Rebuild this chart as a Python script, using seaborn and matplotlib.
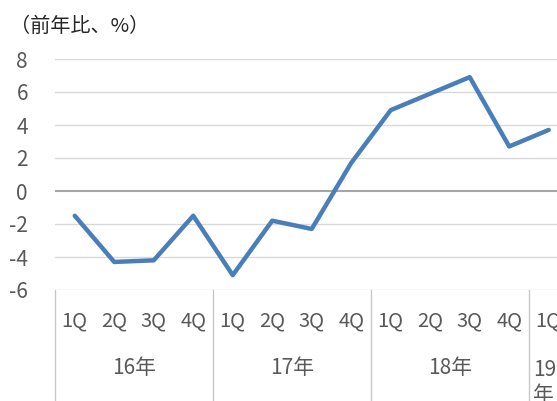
import matplotlib
matplotlib.use('Agg')
from matplotlib import pyplot as plt
import matplotlib.transforms as mtransforms
import seaborn as sns
import pandas as pd

# data
quarters = ['1Q', '2Q', '3Q', '4Q', '1Q', '2Q', '3Q', '4Q', '1Q', '2Q', '3Q', '4Q', '1Q']
years = ['16年', '17年', '18年']
year_pos = [1.5, 5.5, 9.5]
last_year = '19\n年'
values = [-1.5, -4.3, -4.2, -1.5, -5.1, -1.8, -2.3, 1.7, 4.9, 5.9, 6.9, 2.7, 3.7]
yticks = [-6, -4, -2, 0, 2, 4, 6, 8]


def main():
    sns.set_style('white')
    plt.rcParams['font.family'] = ['Noto Sans CJK JP', 'DejaVu Sans']

    df = pd.DataFrame({'idx': range(len(values)), 'value': values})

    fig = plt.figure(figsize=(5.57, 4.01), dpi=100)
    ax = fig.add_axes([55 / 557, 1 - 290 / 401, 1 - 55 / 557, (290 - 59) / 401])

    for y in yticks:
        if y == 0:
            continue
        ax.axhline(y, color='#d9d9d9', lw=1.0, zorder=1)
    ax.axhline(0, color='#a6a6a6', lw=1.5, zorder=1)

    sns.lineplot(data=df, x='idx', y='value', color='#4a7ebb', lw=3.2, ax=ax, zorder=3)

    ax.set_xlim(-0.5, 12.21)
    ax.set_ylim(-6, 8)
    ax.set_yticks(yticks)
    ax.set_yticklabels([str(y) for y in yticks], fontsize=15, color='#595959')
    ax.set_xticks(range(len(quarters)))
    ax.set_xticklabels(quarters, fontsize=14.5, color='#595959')
    ax.tick_params(axis='x', length=0, pad=15)
    ax.tick_params(axis='y', length=0, pad=19.5)
    ax.set_xlabel('')
    ax.set_ylabel('')
    for s in ax.spines.values():
        s.set_visible(False)

    # category group separators below the axis
    trans = mtransforms.blended_transform_factory(ax.transData, ax.transAxes)
    for xs in [-0.5, 3.5, 7.5, 11.5]:
        ax.plot([xs, xs], [0, -0.5], color='#c8c8c8', lw=1.0, transform=trans, clip_on=False)

    for lab, xp in zip(years, year_pos):
        ax.text(xp, -0.338, lab, transform=trans, ha='center', va='center',
                fontsize=15, color='#595959')
    ax.text(11.6, -0.30, last_year, transform=trans, ha='left', va='top',
            fontsize=15, color='#595959', linespacing=1.15)

    fig.text(10 / 557, 1 - 26 / 401, '（前年比、%）', fontsize=14.5, color='#262626',
             ha='left', va='center')

    plt.savefig('out.png', dpi=100)


if __name__ == '__main__':
    main()
